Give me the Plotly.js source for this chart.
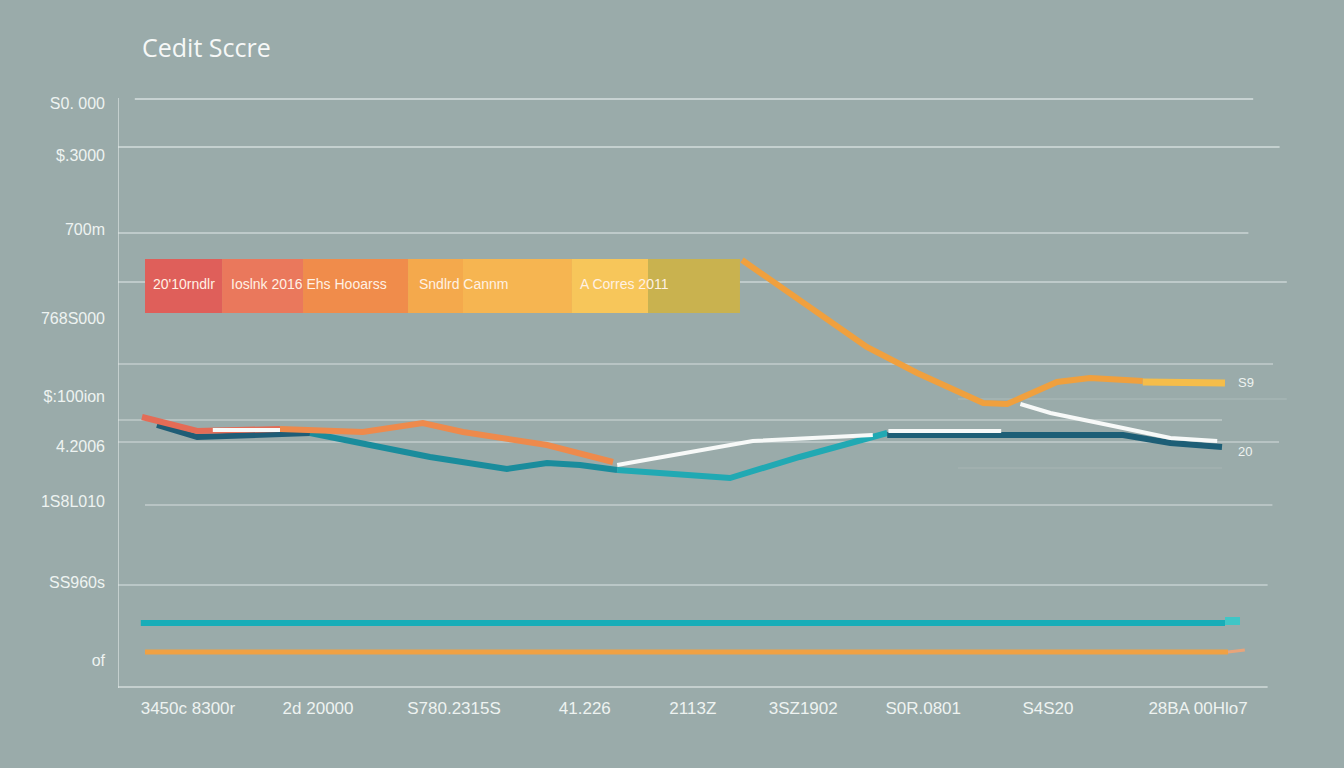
<!DOCTYPE html>
<html>
<head>
<meta charset="utf-8">
<script src="https://cdn.plot.ly/plotly-3.0.1.min.js"></script>
<style>
  html, body { margin: 0; padding: 0; background: #9aabaa; }
  #chart { width: 1344px; height: 768px; }
</style>
</head>
<body>
<div id="chart"></div>
<script>
// ---------- DATA (x = month index, y = score) ----------
const chartTitle = "Cedit Sccre";

const xTickVals = [5.83, 16.67, 28, 38.9, 47.9, 57.1, 67.1, 77.5, 90];
const xTickText = ["3450c 8300r", "2d 20000", "S780.2315S", "41.226", "2113Z", "3SZ1902", "S0R.0801", "S4S20", "28BA 00Hlo7"];

const yTickVals = [885, 833, 759, 670, 592, 542, 487, 406, 328];
const yTickText = ["S0. 000", "$.3000", "700m", "768S000", "$:100ion", "4.2006", "1S8L010", "SS960s", "of"];

// coral series
const coralX1 = [2.0, 6.6, 13.5];
const coralY1 = [571, 557, 559];
const coralX2 = [13.5, 20.4, 25.4, 28.75, 35.75, 41.25];
const coralY2 = [559, 556, 565, 556, 543, 526];

// teal series (three shades)
const tealX1 = [3.25, 6.6, 16];
const tealY1 = [563, 551, 555];
const tealX2 = [16, 20.4, 26, 32.4, 35.75, 38.5, 41.6];
const tealY2 = [555, 545, 531, 519, 525, 523, 518];
const tealX3 = [41.6, 45.75, 51, 56.8, 64.1];
const tealY3 = [518, 515, 510, 531, 555];
const tealX4 = [64.1, 83.75, 87.7, 92];
const tealY4 = [553, 553, 545, 541];

// white series (with gaps)
const whiteX = [7.9, 13.5, null, 41.6, 52.9, 62.9, null, 64.2, 73.6, null, 75.2, 77.7, 83.75, 87.7, 91.6];
const whiteY = [558, 558, null, 523, 547, 553, null, 557, 557, null, 584, 575, 560, 550, 547];

// orange series
const orangeX1 = [52, 56.8, 62.4, 66.6, 72.1, 74.1, 78.25, 81, 85.4];
const orangeY1 = [728, 688, 641, 615, 585, 584, 606, 610, 607];
const orangeX2 = [85.4, 92.25];
const orangeY2 = [606, 605];

// flat baselines
const cyanFlatX = [1.9, 92.25];
const cyanFlatY = [365, 365];
const orangeFlatX = [2.25, 92.5];
const orangeFlatY = [336, 336];

// end labels
const endLabels = ["S9", "20"];
const endLabelX = [93.2, 93.2];
const endLabelY = [606, 537];

// legend strip
const stripLabels = ["20'10rndlr", "Ioslnk 2016 Ehs Hooarss", "Sndlrd Cannm", "A Corres 2011"];
const stripLabelX = [5.5, 15.9, 28.8, 42.2];
const stripStart = [2.25, 8.67, 15.42, 24.17, 28.75, 37.83, 44.17];
const stripWidth = [6.42, 6.75, 8.75, 4.58, 9.08, 6.34, 7.66];
const stripLevel = 702;

// gridlines: y level, x from, x to
const gridY  = [889, 841, 755, 706, 624, 589, 568, 546, 520, 483, 403];
const gridX0 = [1.4, 0, 0, 0, 0, 70, 0, 0, 70, 2.25, 0];
const gridX1 = [94.6, 96.8, 94.2, 97.4, 96.25, 97.4, 92, 96.75, 92, 96.2, 95.8];

// ---------- STYLE ----------
const stripColors = ["#df5f5a", "#ea785c", "#f08c4b", "#f4a94c", "#f6b551", "#f7c65a", "#c9b24f"];
const gridOpacity = [0.75, 0.7, 0.6, 0.6, 0.5, 0.15, 0.45, 0.5, 0.12, 0.5, 0.55];
const tickFont = { family: "Liberation Sans, Arial, sans-serif", size: 16, color: "#eef3f1" };
const xTickFont = { family: "Liberation Sans, Arial, sans-serif", size: 17, color: "#eef3f1" };

function line(x, y, color, width, opacity) {
  return { type: "scatter", mode: "lines", x: x, y: y, hoverinfo: "skip",
           line: { color: color, width: width, shape: "linear" }, opacity: opacity || 1,
           connectgaps: false, showlegend: false };
}

const traces = [
  { type: "bar", orientation: "h", y: stripStart.map(() => stripLevel), x: stripWidth, base: stripStart,
    width: 54, marker: { color: stripColors, line: { width: 0 } }, hoverinfo: "skip", showlegend: false },
  line(cyanFlatX, cyanFlatY, "#18adb8", 6),
  line([cyanFlatX[1], cyanFlatX[1] + 1.25], [cyanFlatY[1] + 2, cyanFlatY[1] + 2], "#3fc6c6", 8),
  line(orangeFlatX, orangeFlatY, "#f0a143", 5),
  line([orangeFlatX[1], orangeFlatX[1] + 1.4], [orangeFlatY[1], orangeFlatY[1] + 2], "#e9a47a", 3),
  line(tealX1, tealY1, "#1f5d76", 6),
  line(tealX2, tealY2, "#1a8c9c", 6),
  line(tealX3, tealY3, "#21a9b3", 6),
  line(tealX4, tealY4, "#1d5e76", 6),
  line(coralX1, coralY1, "#e46c56", 6),
  line(coralX2, coralY2, "#ee8a4c", 6),
  line(whiteX, whiteY, "#f7f9f8", 4),
  line(orangeX1, orangeY1, "#f0a03e", 6),
  line(orangeX2, orangeY2, "#f5bd4a", 7)
];

const shapes = gridY.map((gy, i) => ({
  type: "line", xref: "x", yref: "y", layer: "below",
  x0: gridX0[i], x1: gridX1[i], y0: gy, y1: gy,
  line: { color: "rgba(235,242,240," + gridOpacity[i] + ")", width: 1.5 }
}));
// axis lines
shapes.push({ type: "line", xref: "x", yref: "y", layer: "below", x0: 0, x1: 0, y0: 300, y1: 890,
              line: { color: "rgba(225,233,231,0.8)", width: 1.5 } });
shapes.push({ type: "line", xref: "x", yref: "y", layer: "below", x0: 0, x1: 95.8, y0: 301, y1: 301,
              line: { color: "rgba(225,233,231,0.8)", width: 1.5 } });

const annotations = [];
stripLabels.forEach((t, i) => annotations.push({
  x: stripLabelX[i], y: stripLevel + 2, xref: "x", yref: "y", text: t, showarrow: false,
  font: { family: "Liberation Sans Narrow, Liberation Sans, Arial, sans-serif", size: 14, color: "#fff1e4" }
}));
endLabels.forEach((t, i) => annotations.push({
  x: endLabelX[i], y: endLabelY[i], xref: "x", yref: "y", text: t, showarrow: false, xanchor: "left",
  font: { family: "Liberation Sans, Arial, sans-serif", size: 13, color: "#eef3f1" }
}));

const layout = {
  width: 1344, height: 768,
  paper_bgcolor: "#9aabaa", plot_bgcolor: "#9aabaa",
  margin: { l: 118, r: 54, t: 98, b: 80 },
  showlegend: false,
  hovermode: false,
  barmode: "overlay",
  title: { text: chartTitle, x: 142 / 1344, xref: "container", xanchor: "left",
           y: 1 - 48 / 768, yref: "container", yanchor: "middle",
           font: { family: "Open Sans, Noto Sans, sans-serif", size: 25, color: "#f6f8f7" } },
  xaxis: { range: [0, 1172 / 12], showgrid: false, zeroline: false, showline: false,
           tickmode: "array", tickvals: xTickVals, ticktext: xTickText, ticks: "",
           ticklabelstandoff: 8, tickfont: xTickFont, fixedrange: true },
  yaxis: { range: [300, 890], showgrid: false, zeroline: false, showline: false,
           tickmode: "array", tickvals: yTickVals, ticktext: yTickText, ticks: "",
           ticklabelstandoff: 12, tickfont: tickFont, fixedrange: true },
  shapes: shapes,
  annotations: annotations
};

Plotly.newPlot("chart", traces, layout, { staticPlot: true, displayModeBar: false });
</script>
</body>
</html>
